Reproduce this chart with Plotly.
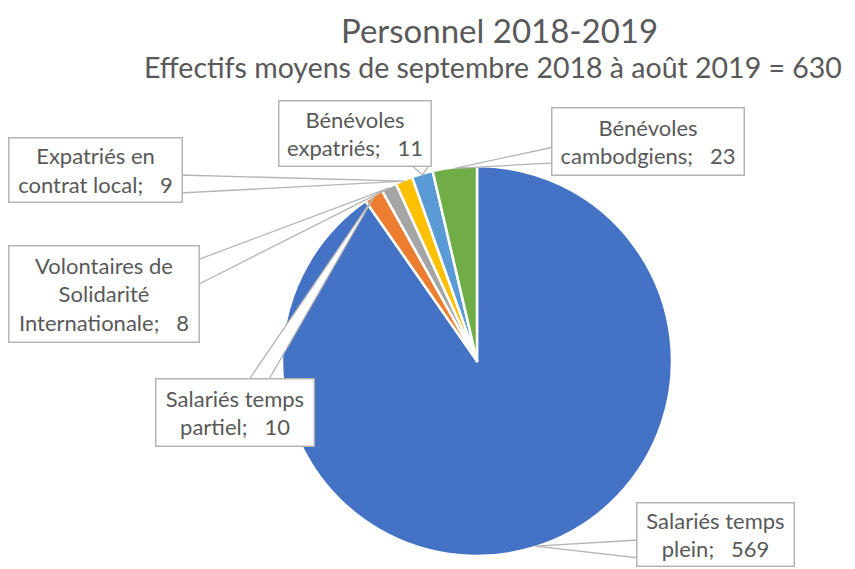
import plotly.graph_objects as go
import math

# ---- data ----
categories = ["Salariés temps plein", "Salariés temps partiel",
              "Volontaires de Solidarité Internationale", "Expatriés en contrat local",
              "Bénévoles expatriés", "Bénévoles cambodgiens"]
values = [569, 10, 8, 9, 11, 23]
wrapped = ["Salariés temps<br>plein", "Salariés temps<br>partiel",
           "Volontaires de<br>Solidarité<br>Internationale", "Expatriés en<br>contrat local",
           "Bénévoles<br>expatriés", "Bénévoles<br>cambodgiens"]
colors = ["#4472C4", "#ED7D31", "#A5A5A5", "#FFC000", "#5B9BD5", "#70AD47"]
title_text = "Personnel 2018-2019"
subtitle_text = "Effectifs moyens de septembre 2018 à août 2019 = 630"

# ---- layout geometry (pixels in the reference picture) ----
W, H = 855, 569
OFF = 8  # page body margin
CX, CY, R = 477, 361, 195
# label boxes: (center x, center y, width, height) and tail base (two px points)
boxes = [
    (715.5, 534.5, 159, 65, ((639, 540), (639, 558))),
    (235, 412.5, 160, 69, ((248, 381), (268, 381))),
    (104, 294, 192, 98, ((197, 260), (197, 285))),
    (95.5, 170, 175, 66, ((180, 175), (180, 193))),
    (355, 133.5, 154, 67, ((410, 164), (430, 164))),
    (648, 141.5, 194, 69, ((554, 147), (554, 163))),
]

def X(px):
    return (px - OFF) / W

def Y(py):
    return 1 - (py - OFF) / H

FONT = "Lato, 'Open Sans', sans-serif"
TXT = "#595959"
EDGE = "#B4B4B4"

fig = go.Figure(go.Pie(
    labels=categories, values=values, sort=False, direction="clockwise", rotation=0,
    marker=dict(colors=colors, line=dict(color="white", width=2.5)),
    textinfo="none", hoverinfo="label+value", showlegend=False,
    domain=dict(x=[X(CX - R), X(CX + R)], y=[Y(CY + R), Y(CY - R)]),
))

total = sum(values)
cum = 0
shapes = []
annotations = []
for i, v in enumerate(values):
    mid = (cum + v / 2) / total * 2 * math.pi
    cum += v
    tx = CX + (R - 1) * math.sin(mid)
    ty = CY - (R - 1) * math.cos(mid)
    bx, by, bw, bh, (p1, p2) = boxes[i]
    path = (f"M {X(p1[0])},{Y(p1[1])} L {X(tx)},{Y(ty)} L {X(p2[0])},{Y(p2[1])} Z")
    shapes.append(dict(type="path", path=path, xref="paper", yref="paper",
                       fillcolor="white", line=dict(color=EDGE, width=1.3), layer="above"))
    annotations.append(dict(
        x=X(bx), y=Y(by), xref="paper", yref="paper", xanchor="center", yanchor="middle",
        text=f"{wrapped[i]};&nbsp;&nbsp; {v}", showarrow=False,
        width=bw - 3, height=bh - 3, borderpad=0, align="center", valign="middle",
        bgcolor="white", bordercolor=EDGE, borderwidth=1.5,
        font=dict(family=FONT, size=22, color=TXT),
    ))

annotations.append(dict(x=X(499), y=Y(29.5), xref="paper", yref="paper", showarrow=False,
                        xanchor="center", yanchor="middle", text=title_text, borderpad=0,
                        font=dict(family=FONT, size=33, color=TXT)))
annotations.append(dict(x=X(493), y=Y(67), xref="paper", yref="paper", showarrow=False,
                        xanchor="center", yanchor="middle", text=subtitle_text, borderpad=0,
                        font=dict(family=FONT, size=28.5, color=TXT)))

fig.update_layout(width=W, height=H, margin=dict(l=0, r=0, t=0, b=0),
                  paper_bgcolor="white", plot_bgcolor="white",
                  shapes=shapes, annotations=annotations)
fig.write_html("out.html")
